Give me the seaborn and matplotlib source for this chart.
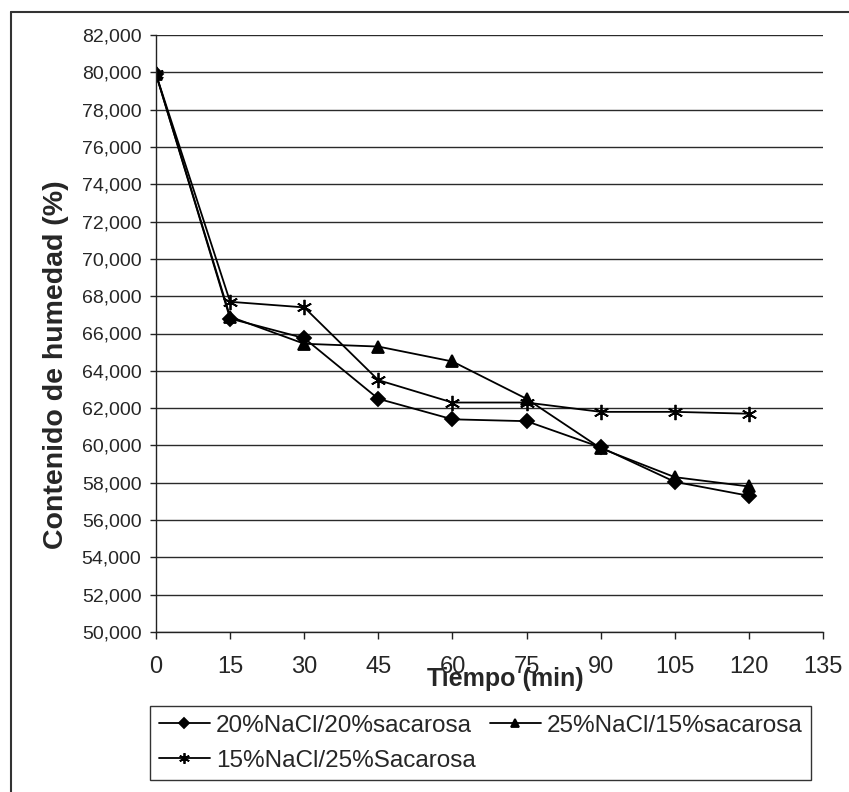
import matplotlib
matplotlib.use("Agg")
import matplotlib.pyplot as plt
import seaborn as sns
import pandas as pd
from matplotlib.lines import Line2D
from matplotlib.ticker import FuncFormatter, MultipleLocator

tiempo = [0, 15, 30, 45, 60, 75, 90, 105, 120]
serie_a = [79.9, 66.8, 65.75, 62.5, 61.4, 61.3, 59.9, 58.05, 57.3]
serie_b = [79.9, 66.9, 65.45, 65.3, 64.5, 62.5, 59.85, 58.3, 57.8]
serie_c = [79.9, 67.7, 67.4, 63.5, 62.3, 62.3, 61.8, 61.8, 61.7]
nombres = ["20%NaCl/20%sacarosa", "25%NaCl/15%sacarosa", "15%NaCl/25%Sacarosa"]
x_ticks = [0, 15, 30, 45, 60, 75, 90, 105, 120, 135]

sns.set_theme(style="white")
plt.rcParams["font.family"] = ["Liberation Sans", "DejaVu Sans"]

W, H = 849, 792
fig = plt.figure(figsize=(W / 100, H / 100), dpi=100)
ax = fig.add_axes([156 / W, (H - 632) / H, (823 - 156) / W, (632 - 35) / H])

df = pd.DataFrame({"t": tiempo, "a": serie_a, "b": serie_b, "c": serie_c})

styles = [
    ("a", "D", 7.5),
    ("b", "^", 9),
    ("c", (6, 2, 0), 11),
]
for (col, mk, ms), name in zip(styles, nombres):
    sns.lineplot(data=df, x="t", y=col, ax=ax, color="black", linewidth=1.3,
                 marker=mk, markersize=ms, markeredgecolor="black",
                 markerfacecolor="black", markeredgewidth=1.3, label=name,
                 legend=False)

ax.set_xlim(0, 135)
ax.set_ylim(50, 82)
ax.set_xticks(x_ticks)
ax.yaxis.set_major_locator(MultipleLocator(2))
ax.yaxis.set_major_formatter(FuncFormatter(lambda v, p: f"{v:.3f}".replace(".", ",")))

ax.yaxis.grid(True, color="#2a2a2a", linewidth=1.0)
ax.xaxis.grid(False)
ax.set_axisbelow(True)
for s in ["top", "right"]:
    ax.spines[s].set_visible(False)
for s in ["left", "bottom"]:
    ax.spines[s].set_color("#222222")
    ax.spines[s].set_linewidth(1.0)

ax.tick_params(axis="x", which="major", direction="out", length=5, width=1,
               color="#222222", pad=12, labelsize=17, bottom=True)
ax.tick_params(axis="y", which="major", direction="out", length=4.5, width=1,
               color="#222222", pad=6, labelsize=14, left=True)

ax.set_xlabel("Tiempo (min)", fontsize=18, fontweight="bold")
ax.xaxis.set_label_coords((505 - 156) / 667, (632 - 679) / 597)
ax.xaxis.label.set_verticalalignment("center")
ax.set_ylabel("Contenido de humedad (%)", fontsize=20.5, fontweight="bold")
ax.yaxis.set_label_coords((56 - 156) / 667, (632 - 365) / 597)
ax.yaxis.label.set_verticalalignment("center")

lines = ax.get_lines()
handles = [lines[0], lines[2], lines[1]]
labels = [nombres[0], nombres[2], nombres[1]]
leg = ax.legend(handles, labels, ncol=2, loc="upper left",
                bbox_to_anchor=(150 / W, 1 - 706 / H),
                bbox_transform=fig.transFigure, borderaxespad=0,
                fontsize=17.5, frameon=True, fancybox=False, edgecolor="black",
                handlelength=2.1, handletextpad=0.25, columnspacing=0.6,
                labelspacing=0.55, borderpad=0.35, markerscale=0.7)
leg.get_frame().set_linewidth(1.0)

fig.add_artist(Line2D([11 / W, 11 / W], [0, 1 - 12 / H], transform=fig.transFigure,
                      color="#333333", linewidth=1.5))
fig.add_artist(Line2D([11 / W, 1], [1 - 12 / H, 1 - 12 / H], transform=fig.transFigure,
                      color="#333333", linewidth=1.5))

fig.savefig("out.png", dpi=100)
